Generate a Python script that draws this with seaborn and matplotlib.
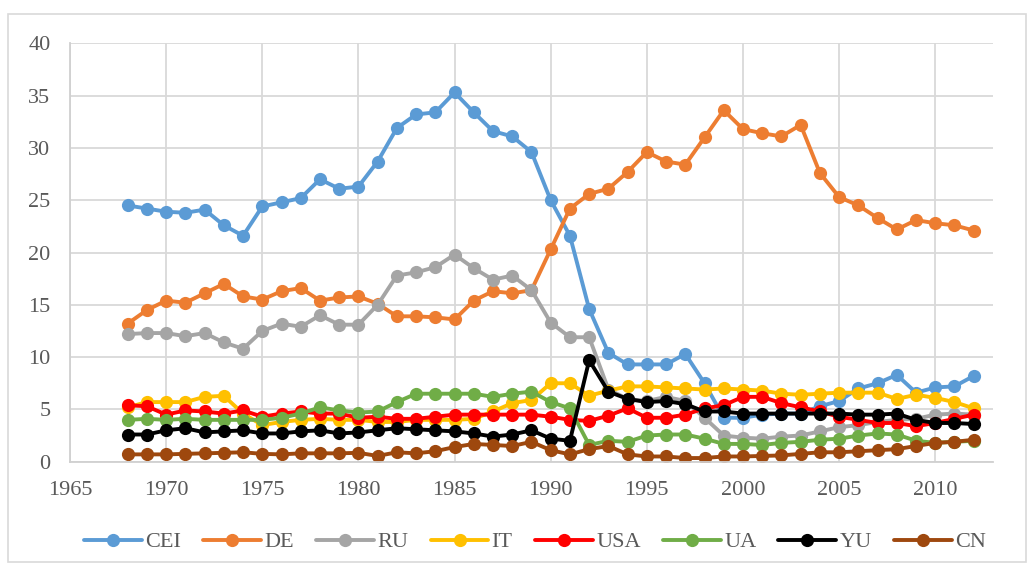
import matplotlib
matplotlib.use("Agg")
import matplotlib.pyplot as plt
import seaborn as sns
import pandas as pd
from matplotlib.lines import Line2D
from matplotlib.patches import Rectangle

# Annual values per country group, 1968-2012
years = list(range(1968, 2013))

cei = [24.5, 24.2, 23.9, 23.8, 24.1, 22.6, 21.6, 24.4, 24.8, 25.2, 27.0, 26.1, 26.3,
       28.7, 31.9, 33.2, 33.4, 35.3, 33.4, 31.6, 31.1, 29.6, 25.0, 21.6, 14.6,
       10.4, 9.3, 9.3, 9.3, 10.3, 7.5, 4.2, 4.2, 4.5, 4.6, 4.6, 5.3, 5.8,
       7.0, 7.5, 8.3, 6.6, 7.1, 7.2, 8.2]
de = [13.2, 14.5, 15.4, 15.2, 16.1, 17.0, 15.8, 15.5, 16.3, 16.6, 15.4, 15.7, 15.8,
      15.1, 13.9, 13.9, 13.8, 13.6, 15.4, 16.3, 16.1, 16.4, 20.3, 24.2, 25.6,
      26.1, 27.7, 29.6, 28.7, 28.4, 31.0, 33.6, 31.8, 31.4, 31.1, 32.2, 27.6, 25.3,
      24.5, 23.3, 22.2, 23.1, 22.8, 22.6, 22.1]
ru = [12.2, 12.3, 12.3, 12.0, 12.3, 11.4, 10.8, 12.5, 13.2, 12.9, 14.0, 13.1, 13.1,
      15.0, 17.8, 18.1, 18.6, 19.8, 18.5, 17.4, 17.8, 16.4, 13.3, 11.9, 11.9,
      6.9, 6.0, 5.8, 6.2, 5.8, 4.2, 2.5, 2.3, 2.2, 2.4, 2.5, 2.9, 3.3,
      3.5, 3.8, 4.0, 4.1, 4.5, 4.6, 4.5]
it = [5.2, 5.7, 5.7, 5.7, 6.2, 6.3, 4.6, 3.5, 3.8, 4.0, 4.1, 4.0, 4.0,
      3.8, 3.8, 4.0, 4.0, 4.0, 4.1, 4.8, 5.6, 5.9, 7.5, 7.5, 6.3,
      6.8, 7.2, 7.2, 7.1, 7.0, 6.9, 7.0, 6.9, 6.8, 6.5, 6.4, 6.5, 6.6,
      6.6, 6.6, 6.0, 6.4, 6.1, 5.7, 5.1]
usa = [5.4, 5.3, 4.5, 4.9, 4.8, 4.6, 4.9, 4.3, 4.6, 4.8, 4.6, 4.6, 4.2,
       4.3, 4.1, 4.1, 4.3, 4.5, 4.5, 4.5, 4.5, 4.5, 4.3, 4.0, 3.9,
       4.4, 5.1, 4.2, 4.2, 4.5, 5.1, 5.4, 6.2, 6.2, 5.6, 5.2, 4.8, 4.3,
       4.0, 3.7, 3.7, 3.4, 3.7, 4.1, 4.5]
ua = [4.0, 4.1, 4.0, 4.1, 4.0, 4.0, 4.0, 4.0, 4.2, 4.6, 5.2, 4.9, 4.7,
      4.8, 5.7, 6.5, 6.5, 6.5, 6.5, 6.2, 6.5, 6.7, 5.7, 5.1, 1.6,
      2.0, 1.9, 2.5, 2.6, 2.6, 2.2, 1.7, 1.7, 1.6, 1.8, 1.9, 2.1, 2.2,
      2.5, 2.7, 2.6, 2.0, 1.8, 1.9, 2.0]
yu = [2.6, 2.6, 3.0, 3.2, 2.8, 2.9, 3.0, 2.7, 2.7, 2.9, 3.0, 2.7, 2.8,
      3.0, 3.2, 3.1, 3.0, 2.9, 2.7, 2.4, 2.6, 3.0, 2.2, 2.0, 9.7,
      6.7, 6.0, 5.7, 5.8, 5.5, 4.8, 4.8, 4.6, 4.6, 4.6, 4.6, 4.6, 4.6,
      4.5, 4.5, 4.6, 4.0, 3.7, 3.7, 3.6]
cn = [0.7, 0.7, 0.7, 0.75, 0.8, 0.85, 0.9, 0.75, 0.7, 0.8, 0.8, 0.8, 0.85,
      0.55, 0.9, 0.8, 1.0, 1.4, 1.7, 1.6, 1.5, 1.9, 1.1, 0.7, 1.2,
      1.5, 0.7, 0.5, 0.5, 0.35, 0.35, 0.5, 0.5, 0.55, 0.6, 0.75, 0.9, 0.9,
      1.0, 1.1, 1.2, 1.5, 1.8, 1.9, 2.1]

series_names = ["CEI", "DE", "RU", "IT", "USA", "UA", "YU", "CN"]
series_values = [cei, de, ru, it, usa, ua, yu, cn]
colors = ["#5B9BD5", "#ED7D31", "#A5A5A5", "#FFC000",
          "#FF0000", "#70AD47", "#000000", "#9E480E"]

y_ticks = [0, 5, 10, 15, 20, 25, 30, 35, 40]
x_ticks = [1965, 1970, 1975, 1980, 1985, 1990, 1995, 2000, 2005, 2010]

df = pd.DataFrame({
    "year": years * len(series_names),
    "value": [v for vals in series_values for v in vals],
    "series": [name for name in series_names for _ in years],
})

sns.set_style("white")
plt.rcParams["font.family"] = ["Liberation Serif", "DejaVu Serif"]

fig = plt.figure(figsize=(10.34, 5.70), dpi=100)
ax = fig.add_axes([0.0677, 0.19, 0.8926, 0.734])

sns.lineplot(data=df, x="year", y="value", hue="series",
             hue_order=series_names, palette=colors,
             marker="o", markersize=9.5, markeredgewidth=0,
             linewidth=2.8, estimator=None, sort=False,
             legend=False, ax=ax)

ax.set_xlim(1965, 2013)
ax.set_ylim(0, 40)
ax.set_xticks(x_ticks)
ax.set_yticks(y_ticks)
ax.set_xlabel("")
ax.set_ylabel("")
ax.grid(True, color="#D9D9D9", linewidth=1.3)
ax.set_axisbelow(True)
for side in ["top", "right"]:
    ax.spines[side].set_visible(False)
for side in ["left", "bottom"]:
    ax.spines[side].set_color("#D0D0D0")
    ax.spines[side].set_linewidth(1.3)
ax.tick_params(length=0, labelsize=16, labelcolor="#595959")
ax.tick_params(axis="y", pad=14)
ax.tick_params(axis="x", pad=14)

handles = [Line2D([0], [0], color=c, linewidth=2.8, marker="o",
                  markersize=9.5, markeredgewidth=0) for c in colors]
fig.legend(handles, series_names, loc="center",
           bbox_to_anchor=(0.5175, 0.049), ncol=len(series_names),
           frameon=False, fontsize=16, handlelength=2.6,
           handletextpad=0.15, columnspacing=1.0,
           labelcolor="#595959")

# light chart-area border
fig.patches.append(Rectangle((0.0077, 0.014), 0.9846, 0.9614,
                             transform=fig.transFigure, fill=False,
                             edgecolor="#D9D9D9", linewidth=1.2))

fig.savefig("out.png", dpi=100)
